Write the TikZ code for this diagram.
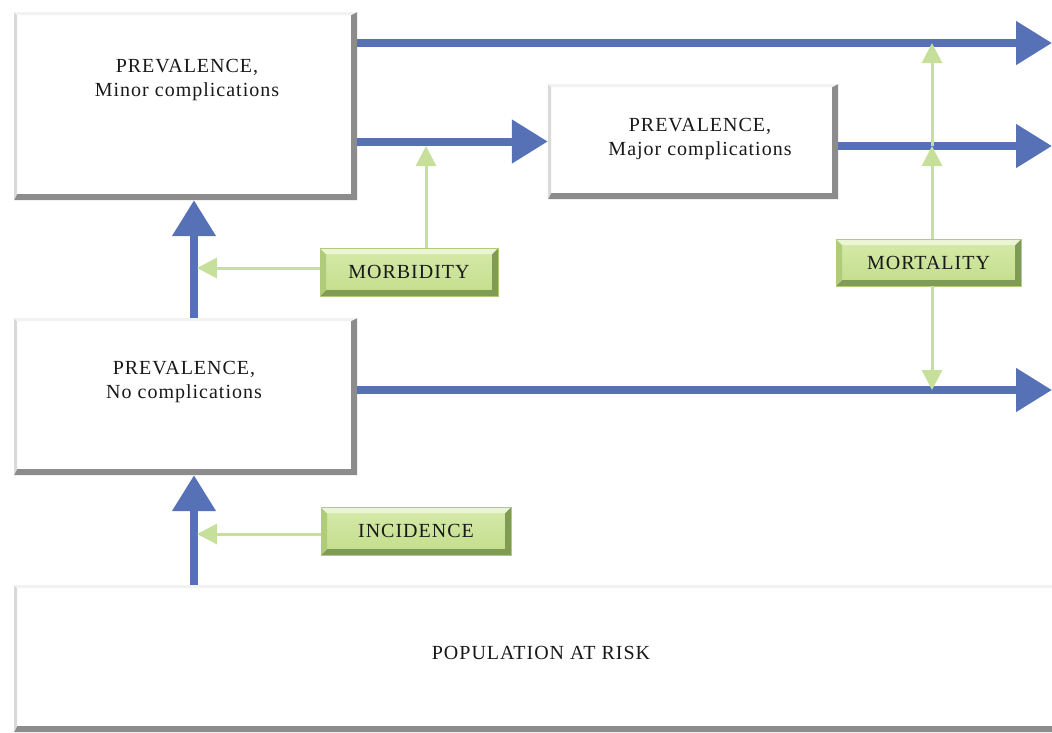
\documentclass[tikz,border=0pt]{standalone}
\usepackage{fontspec}
\setmainfont{Liberation Serif}
\usetikzlibrary{arrows.meta,calc}
\definecolor{flowblue}{RGB}{86,113,182}
\definecolor{lightgreen}{RGB}{198,224,155}
\definecolor{gtop}{RGB}{214,234,170}
\definecolor{gbot}{RGB}{194,221,138}
\definecolor{gdark}{RGB}{128,156,84}
\definecolor{gmid}{RGB}{176,204,122}
\definecolor{txt}{RGB}{25,25,25}
\tikzset{
  wbox/.style={rectangle, fill=white, inner sep=0pt,
    path picture={
      \fill[black!45] (path picture bounding box.north east) -- (path picture bounding box.south east) -- (path picture bounding box.south west)
        -- ([xshift=3pt,yshift=6pt]path picture bounding box.south west) -- ([xshift=-6pt,yshift=6pt]path picture bounding box.south east)
        -- ([xshift=-6pt,yshift=-3pt]path picture bounding box.north east) -- cycle;
      \fill[black!15] (path picture bounding box.north west) -- (path picture bounding box.south west)
        -- ([xshift=3pt,yshift=6pt]path picture bounding box.south west) -- ([xshift=3pt,yshift=-3pt]path picture bounding box.north west) -- cycle;
      \fill[black!5] (path picture bounding box.north west) -- (path picture bounding box.north east)
        -- ([xshift=-6pt,yshift=-3pt]path picture bounding box.north east) -- ([xshift=3pt,yshift=-3pt]path picture bounding box.north west) -- cycle;
    }},
  gbox/.style={rectangle, top color=gtop, bottom color=gbot, draw=gmid, line width=0.5pt, inner sep=0pt,
    font=\fontsize{20}{24}\selectfont\addfontfeature{LetterSpace=5}, text=txt,
    path picture={
      \fill[gdark] (path picture bounding box.north east) -- (path picture bounding box.south east) -- (path picture bounding box.south west)
        -- ([xshift=6pt,yshift=6pt]path picture bounding box.south west) -- ([xshift=-6pt,yshift=6pt]path picture bounding box.south east)
        -- ([xshift=-6pt,yshift=-6pt]path picture bounding box.north east) -- cycle;
      \fill[gmid] (path picture bounding box.north west) -- (path picture bounding box.south west)
        -- ([xshift=6pt,yshift=6pt]path picture bounding box.south west) -- ([xshift=6pt,yshift=-6pt]path picture bounding box.north west) -- cycle;
      \fill[gtop!50!white] (path picture bounding box.north west) -- (path picture bounding box.north east)
        -- ([xshift=-6pt,yshift=-6pt]path picture bounding box.north east) -- ([xshift=6pt,yshift=-6pt]path picture bounding box.north west) -- cycle;
    }},
  label/.style={align=center, text=txt, inner sep=0pt,
    font=\fontsize{20}{24}\selectfont\addfontfeature{LetterSpace=5}},
  bluearrow/.style={draw=flowblue, line width=8pt, -{Triangle[length=36pt,width=42pt]}},
  greenarrow/.style={draw=lightgreen, line width=3pt, -{Triangle[length=20pt,width=20pt]}}
}
\begin{document}
\begin{tikzpicture}[x=1pt,y=-1pt]
\useasboundingbox[fill=white] (0,0) rectangle (1052,732);
% boxes
\node[wbox, minimum width=343pt, minimum height=188pt] (minor) at (185.5,106) {};
\node[wbox, minimum width=290pt, minimum height=115pt] (major) at (693,141.5) {};
\node[wbox, minimum width=343pt, minimum height=157pt] (nocomp) at (185.5,396.5) {};
\node[wbox, minimum width=1046pt, minimum height=147pt] (pop) at (537,658.5) {};
% texts
\node[label] (tminor) at (187,80) {PREVALENCE,\\Minor complications};
\node[label] (tmajor) at (700,139) {PREVALENCE,\\Major complications};
\node[label] (tnocomp) at (184,382) {PREVALENCE,\\No complications};
\node[label] (tpop) at (541,653) {POPULATION AT RISK};
% coordinates
\coordinate (e1) at (1052,43);
\coordinate (e2) at (1052,146);
\coordinate (e3) at (1052,390);
\coordinate (vx) at (194,0);
\coordinate (mb) at (426,146);
\coordinate (mt1) at (932,146);
\coordinate (mt2) at (932,43);
\coordinate (mt3) at (932,390);
\coordinate (hit1) at (197,268);
\coordinate (hit2) at (197,534);
% blue arrows
\draw[bluearrow] (minor.east |- e1) -- (e1);
\draw[bluearrow] (minor.east |- major.west) -- (major.west);
\draw[bluearrow] (major.east |- e2) -- (e2);
\draw[bluearrow] (nocomp.east |- e3) -- (e3);
\draw[bluearrow] (nocomp.north -| vx) -- (minor.south -| vx);
\draw[bluearrow] (pop.north -| vx) -- (nocomp.south -| vx);
% green boxes
\node[gbox, minimum width=178pt, minimum height=48pt] (morb) at (409,272) {MORBIDITY};
\node[gbox, minimum width=185pt, minimum height=47pt] (mort) at (928.5,262.5) {MORTALITY};
\node[gbox, minimum width=190pt, minimum height=48pt] (inc) at (416,531) {INCIDENCE};
% green arrows
\draw[greenarrow] (morb.north -| mb) -- (mb);
\draw[greenarrow] (morb.west |- hit1) -- (hit1);
\draw[greenarrow] (inc.west |- hit2) -- (hit2);
\draw[greenarrow] (mort.north -| mt1) -- (mt1);
\draw[greenarrow] (mt1) -- (mt2);
\draw[greenarrow] (mort.south -| mt3) -- (mt3);
\end{tikzpicture}
\end{document}
